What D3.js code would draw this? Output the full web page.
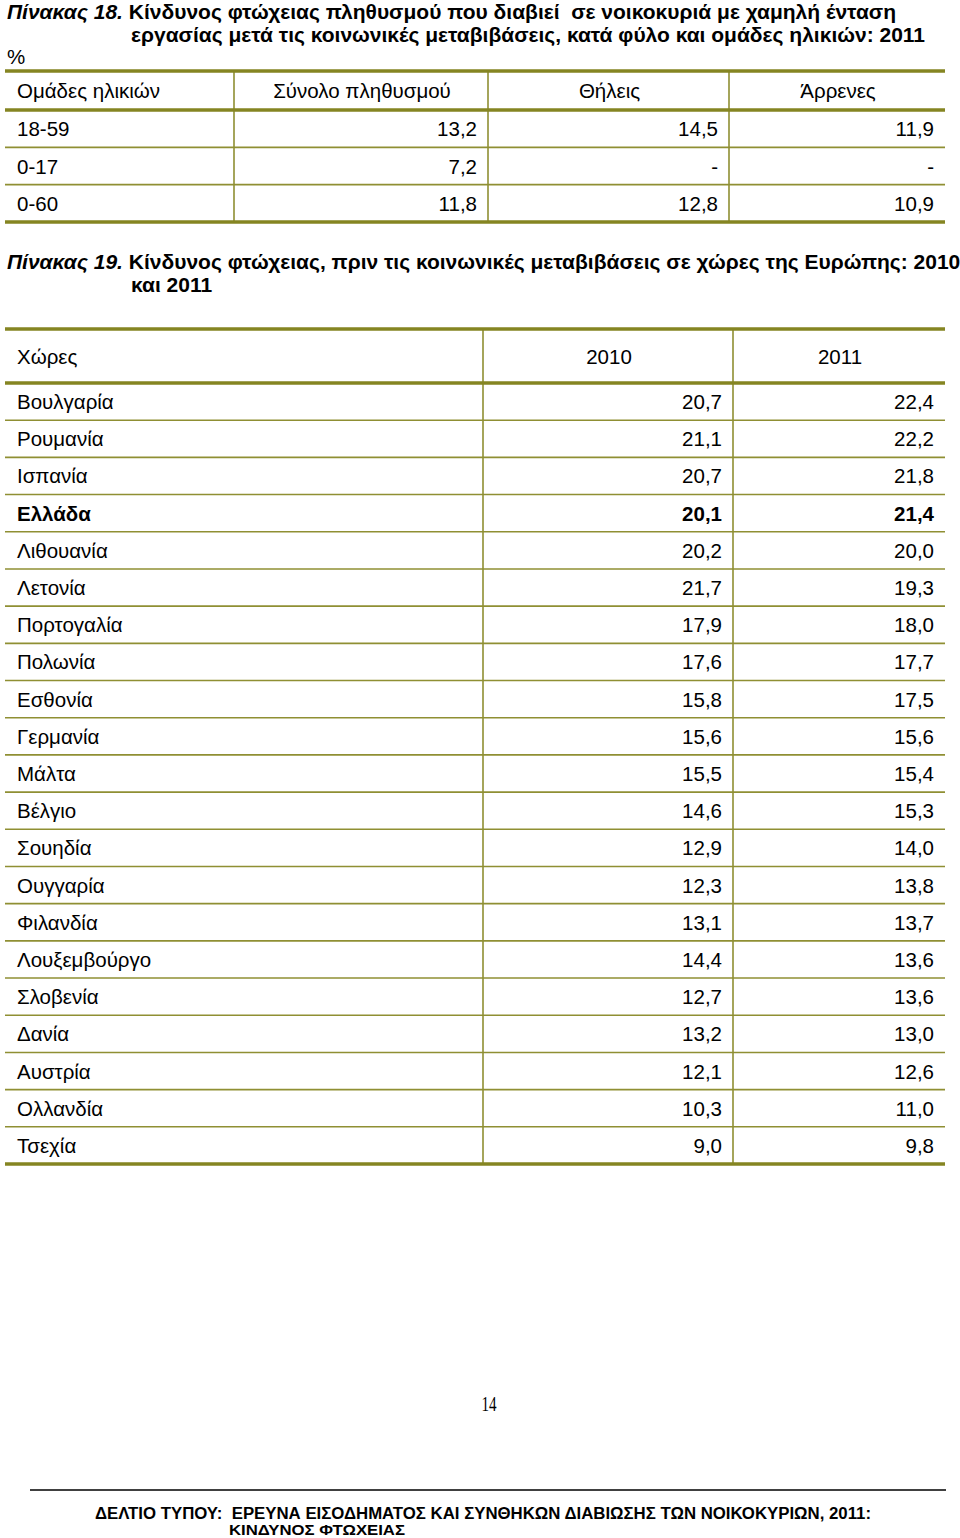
<!DOCTYPE html>
<html>
<head>
<meta charset="utf-8">
<script src="https://cdn.jsdelivr.net/npm/d3@7"></script>
<style>
  html, body { margin: 0; padding: 0; background: #fff; }
  svg { display: block; }
  text { font-family: "Liberation Sans", Arial, sans-serif; fill: #000; }
</style>
</head>
<body>
<svg id="page" width="960" height="1538"></svg>
<script>
// ---- Table 18 data ----
const t18Columns = ["Ομάδες ηλικιών", "Σύνολο πληθυσμού", "Θήλεις", "Άρρενες"];
const ageGroups = ["18-59", "0-17", "0-60"];
const totalPop = [13.2, 7.2, 11.8];
const females = [14.5, null, 12.8];
const males = [11.9, null, 10.9];

// ---- Table 19 data ----
const t19Columns = ["Χώρες", "2010", "2011"];
const countries = ["Βουλγαρία", "Ρουμανία", "Ισπανία", "Ελλάδα", "Λιθουανία", "Λετονία",
  "Πορτογαλία", "Πολωνία", "Εσθονία", "Γερμανία", "Μάλτα", "Βέλγιο", "Σουηδία", "Ουγγαρία",
  "Φιλανδία", "Λουξεμβούργο", "Σλοβενία", "Δανία", "Αυστρία", "Ολλανδία", "Τσεχία"];
const values2010 = [20.7, 21.1, 20.7, 20.1, 20.2, 21.7, 17.9, 17.6, 15.8, 15.6, 15.5, 14.6,
  12.9, 12.3, 13.1, 14.4, 12.7, 13.2, 12.1, 10.3, 9.0];
const values2011 = [22.4, 22.2, 21.8, 21.4, 20.0, 19.3, 18.0, 17.7, 17.5, 15.6, 15.4, 15.3,
  14.0, 13.8, 13.7, 13.6, 13.6, 13.0, 12.6, 11.0, 9.8];
const highlightCountry = "Ελλάδα";

const svg = d3.select("#page");
const OLIVE = "#858522";
const OLIVE_THIN = "#8f8f33";
const fmt = v => (v == null ? "-" : d3.format(".1f")(v).replace(".", ","));
const FS = 20.5;
const TITLE_FS = 21;

// Generic table drawer
function drawTable(cfg) {
  const g = svg.append("g");
  const rowScale = d3.scaleBand().domain(cfg.rows).range([cfg.bodyTop, cfg.bodyBottom]).padding(0);
  const colEdges = cfg.colEdges; // [left, d1, d2, ..., right]

  // header text
  cfg.header.forEach((h, i) => {
    const x0 = colEdges[i], x1 = colEdges[i + 1];
    const t = g.append("text")
      .attr("y", cfg.headerBaseline)
      .attr("font-size", FS)
      .text(h);
    if (i === 0) t.attr("x", x0 + 12);
    else t.attr("x", (x0 + x1) / 2 + 1).attr("text-anchor", "middle");
  });

  // body rows
  cfg.rows.forEach((r, ri) => {
    const yc = rowScale(r) + rowScale.bandwidth() / 2;
    const bold = cfg.boldRow && cfg.boldRow === r;
    g.append("text")
      .attr("x", colEdges[0] + 12)
      .attr("y", yc + 7.5)
      .attr("font-size", FS)
      .attr("font-weight", bold ? "bold" : "normal")
      .text(r);
    cfg.series.forEach((s, si) => {
      g.append("text")
        .attr("x", colEdges[si + 2] - 11)
        .attr("y", yc + 7.5)
        .attr("font-size", FS)
        .attr("font-weight", bold ? "bold" : "normal")
        .attr("text-anchor", "end")
        .text(fmt(s[ri]));
    });
  });

  const L = colEdges[0], R = colEdges[colEdges.length - 1];
  // thin row separators
  cfg.rows.slice(1).forEach(r => {
    g.append("line").attr("x1", L).attr("x2", R)
      .attr("y1", rowScale(r)).attr("y2", rowScale(r))
      .attr("stroke", OLIVE_THIN).attr("stroke-width", 1.6);
  });
  // vertical dividers
  colEdges.slice(1, -1).forEach(x => {
    g.append("line").attr("x1", x).attr("x2", x)
      .attr("y1", cfg.top).attr("y2", cfg.bodyBottom)
      .attr("stroke", OLIVE_THIN).attr("stroke-width", 1.6);
  });
  // thick rules
  [cfg.top, cfg.bodyTop, cfg.bodyBottom].forEach(y => {
    g.append("line").attr("x1", L).attr("x2", R)
      .attr("y1", y).attr("y2", y)
      .attr("stroke", OLIVE).attr("stroke-width", 3.4);
  });
}

// ---- Titles ----
function titleLine(x, y, italicPart, rest) {
  const t = svg.append("text").attr("x", x).attr("y", y)
    .attr("font-size", TITLE_FS).attr("font-weight", "bold").attr("xml:space", "preserve");
  if (italicPart) t.append("tspan").attr("font-style", "italic").text(italicPart);
  t.append("tspan").text(rest);
  return t;
}
titleLine(7, 19, "Πίνακας 18.", " Κίνδυνος φτώχειας πληθυσμού που διαβιεί  σε νοικοκυριά με χαμηλή ένταση");
titleLine(131, 42, null, "εργασίας μετά τις κοινωνικές μεταβιβάσεις, κατά φύλο και ομάδες ηλικιών: 2011");
svg.append("text").attr("x", 7).attr("y", 64).attr("font-size", FS).text("%");

drawTable({
  header: t18Columns,
  rows: ageGroups,
  series: [totalPop, females, males],
  colEdges: [5, 234, 488, 729, 945],
  top: 71, bodyTop: 110, bodyBottom: 222,
  headerBaseline: 98
});

titleLine(7, 269, "Πίνακας 19.", " Κίνδυνος φτώχειας, πριν τις κοινωνικές μεταβιβάσεις σε χώρες της Ευρώπης: 2010");
titleLine(131, 292, null, "και 2011");

drawTable({
  header: t19Columns,
  rows: countries,
  series: [values2010, values2011],
  colEdges: [5, 483, 733, 945],
  top: 329, bodyTop: 383, bodyBottom: 1164,
  headerBaseline: 364,
  boldRow: highlightCountry
});

// ---- Page number & footer ----
svg.append("text").attr("x", 489).attr("y", 1411)
  .attr("text-anchor", "middle")
  .style("font-family", "'Liberation Serif', 'Times New Roman', serif")
  .attr("font-size", 21)
  .attr("transform", "translate(489,0) scale(0.72,1) translate(-489,0)")
  .text("14");

svg.append("line").attr("x1", 30).attr("x2", 946).attr("y1", 1490).attr("y2", 1490)
  .attr("stroke", "#000").attr("stroke-width", 1.5);

svg.append("text").attr("x", 95).attr("y", 1519)
  .attr("font-size", 16).attr("font-weight", "bold")
  .attr("textLength", 776).attr("lengthAdjust", "spacingAndGlyphs")
  .attr("xml:space", "preserve")
  .text("ΔΕΛΤΙΟ ΤΥΠΟΥ:  ΕΡΕΥΝΑ ΕΙΣΟΔΗΜΑΤΟΣ ΚΑΙ ΣΥΝΘΗΚΩΝ ΔΙΑΒΙΩΣΗΣ ΤΩΝ ΝΟΙΚΟΚΥΡΙΩΝ, 2011:");
svg.append("text").attr("x", 229).attr("y", 1535)
  .attr("font-size", 15).attr("font-weight", "bold")
  .attr("textLength", 176).attr("lengthAdjust", "spacingAndGlyphs")
  .text("ΚΙΝΔΥΝΟΣ ΦΤΩΧΕΙΑΣ");
</script>
</body>
</html>
